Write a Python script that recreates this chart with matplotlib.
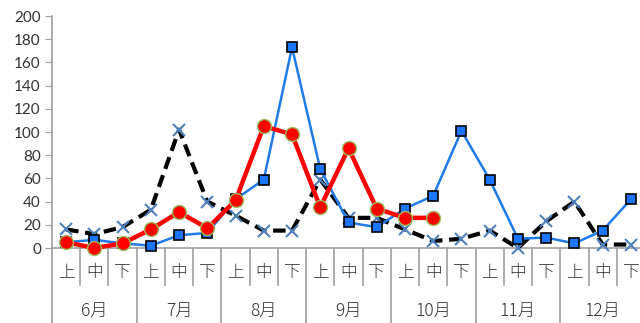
import matplotlib
matplotlib.use("Agg")
import matplotlib.pyplot as plt
import numpy as np
from matplotlib.transforms import blended_transform_factory

months = ["6月", "7月", "8月", "9月", "10月", "11月", "12月"]
periods = ["上", "中", "下"]

blue = [5, 7, 4, 2, 11, 13, 42, 59, 173, 68, 22, 18, 34, 45, 101, 59, 8, 9, 4, 15, 42]
red = [5, 0, 4, 16, 31, 17, 41, 105, 98, 35, 86, 34, 26, 26] + [np.nan] * 7
black = [16, 12, 18, 33, 102, 40, 28, 15, 15, 59, 26, 26, 16, 6, 8, 15, 0, 23, 40, 3, 3]

fig = plt.figure(figsize=(6.4, 3.23), dpi=100)
W, H = 640, 323
x0, x1, ybot, ytop = 52, 645, 248, 16
ax = fig.add_axes([x0 / W, 1 - ybot / H, (x1 - x0) / W, (ybot - ytop) / H])

x = np.arange(len(blue))
ax.plot(x, black, color="black", lw=3, dashes=(3, 1.6), marker="x", ms=9,
        mec="#4F81BD", mew=1.5, zorder=3, clip_on=False)
ax.plot(x, blue, color="#1F7BE8", lw=1.8, marker="s", ms=7, mfc="#1A75FF",
        mec="black", mew=1.2, zorder=4, clip_on=False)
ax.plot(x, red, color="#FF0000", lw=3.2, marker="o", ms=10, mfc="#FF0000",
        mec="#9BBB59", mew=1.0, zorder=5, clip_on=False)

ax.set_xlim(-0.5, 20.5)
ax.set_ylim(0, 200)
ax.set_yticks(range(0, 201, 20))
ax.tick_params(axis="y", length=5, color="#A0A0A0", labelsize=11, pad=3)
for lab in ax.get_yticklabels():
    lab.set_fontfamily(["Lato", "DejaVu Sans"])
    lab.set_color("#333333")
ax.set_xticks([])
for s in ["top", "right"]:
    ax.spines[s].set_visible(False)
for s in ["left", "bottom"]:
    ax.spines[s].set_color("#A0A0A0")
    ax.spines[s].set_linewidth(1.2)

tr = blended_transform_factory(ax.transData, ax.transAxes)
sep_short = -(285 - ybot) / (ybot - ytop)
sep_long = -(H - ybot) / (ybot - ytop)
for i in range(22):
    b = i - 0.5
    yend = sep_long if i % 3 == 0 else sep_short
    ax.plot([b, b], [0, yend], transform=tr, color="#A0A0A0", lw=1.2, clip_on=False)

yp = -(273 - ybot) / (ybot - ytop)
ym = -(311 - ybot) / (ybot - ytop)
cjk = ["Noto Sans CJK JP", "DejaVu Sans"]
for i in range(21):
    ax.text(i, yp, periods[i % 3], transform=tr, ha="center", va="center",
            fontsize=12, family=cjk, fontweight="light", color="#333333")
for m, name in enumerate(months):
    ax.text(3 * m + 1, ym, name, transform=tr, ha="center", va="center",
            fontsize=12.5, family=cjk, fontweight="light", color="#333333")

fig.savefig("out.png", dpi=100)
